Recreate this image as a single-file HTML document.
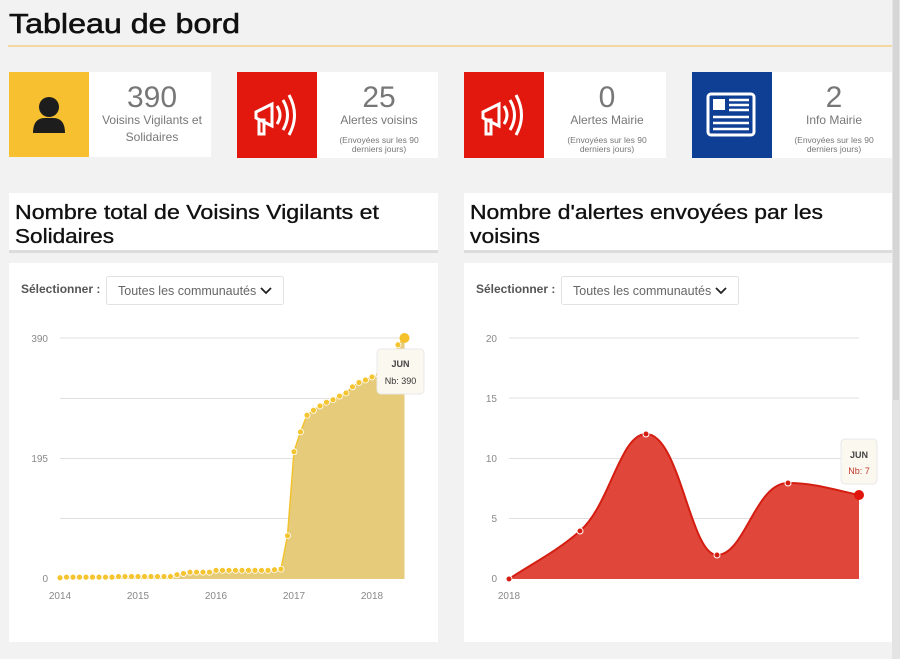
<!DOCTYPE html>
<html><head><meta charset="utf-8"><style>
html,body{margin:0;padding:0;background:#f2f2f2;width:900px;height:659px;overflow:hidden}
svg{display:block;font-family:"Liberation Sans",sans-serif}
</style></head><body>
<svg width="900" height="659" viewBox="0 0 900 659" xmlns="http://www.w3.org/2000/svg">
<rect width="900" height="659" fill="#f2f2f2"/>
<rect x="892" y="0" width="8" height="659" fill="#e4e4e4"/>
<rect x="893" y="0" width="6" height="400" fill="#d6d6d6"/>
<text x="9" y="33" font-size="28" fill="#111" stroke="#111" stroke-width="0.6" textLength="231" lengthAdjust="spacingAndGlyphs">Tableau de bord</text>
<line x1="8" y1="46" x2="892" y2="46" stroke="#f0c050" stroke-width="1"/>

<rect x="9" y="72" width="80" height="85" fill="#f6c030"/>
<rect x="89" y="72" width="122" height="85" fill="#fff"/>
<circle cx="49" cy="107" r="10" fill="#1d1d1d"/>
<path d="M33,133 Q33,118 45,118 L53,118 Q65,118 65,133 Z" fill="#1d1d1d"/>
<text x="152" y="107" font-size="30" fill="#777" text-anchor="middle">390</text>
<text x="152" y="124" font-size="12" fill="#777" text-anchor="middle">Voisins Vigilants et</text>
<text x="152" y="141" font-size="12" fill="#777" text-anchor="middle">Solidaires</text>

<rect x="237" y="72" width="80" height="86" fill="#e2180e"/>
<rect x="317" y="72" width="121" height="86" fill="#fff"/>
<g fill="none" stroke="#fff" stroke-width="3">
<path d="M256,112 L272,104 L272,126 L256,118 Z"/><rect x="259" y="120" width="5" height="14"/>
<path d="M277,106 Q283,115 277,124"/><path d="M283,100 Q292,115 283,130"/><path d="M289,95 Q300,115 289,135"/>
</g>
<text x="379" y="107" font-size="30" fill="#777" text-anchor="middle">25</text>
<text x="379" y="124" font-size="12" fill="#777" text-anchor="middle">Alertes voisins</text>
<text x="379" y="143" font-size="8.5" fill="#777" text-anchor="middle">(Envoyées sur les 90</text>
<text x="379" y="152" font-size="8.5" fill="#777" text-anchor="middle">derniers jours)</text>

<rect x="464" y="72" width="80" height="86" fill="#e2180e"/>
<rect x="544" y="72" width="122" height="86" fill="#fff"/>
<g fill="none" stroke="#fff" stroke-width="3">
<path d="M483,112 L499,104 L499,126 L483,118 Z"/><rect x="486" y="120" width="5" height="14"/>
<path d="M504,106 Q510,115 504,124"/><path d="M510,100 Q519,115 510,130"/><path d="M516,95 Q527,115 516,135"/>
</g>
<text x="607" y="107" font-size="30" fill="#777" text-anchor="middle">0</text>
<text x="607" y="124" font-size="12" fill="#777" text-anchor="middle">Alertes Mairie</text>
<text x="607" y="143" font-size="8.5" fill="#777" text-anchor="middle">(Envoyées sur les 90</text>
<text x="607" y="152" font-size="8.5" fill="#777" text-anchor="middle">derniers jours)</text>

<rect x="692" y="72" width="80" height="86" fill="#0f3f95"/>
<rect x="772" y="72" width="120" height="86" fill="#fff"/>
<rect x="708" y="94" width="46" height="41" rx="3" fill="none" stroke="#fff" stroke-width="3"/>
<rect x="713" y="99" width="12" height="11" fill="#fff"/>
<g stroke="#fff" stroke-width="2.5"><line x1="729" y1="100" x2="749" y2="100"/><line x1="729" y1="105" x2="749" y2="105"/><line x1="729" y1="110" x2="749" y2="110"/><line x1="713" y1="117" x2="749" y2="117"/><line x1="713" y1="123" x2="749" y2="123"/><line x1="713" y1="129" x2="749" y2="129"/></g>
<text x="834" y="107" font-size="30" fill="#777" text-anchor="middle">2</text>
<text x="834" y="124" font-size="12" fill="#777" text-anchor="middle">Info Mairie</text>
<text x="834" y="143" font-size="8.5" fill="#777" text-anchor="middle">(Envoyées sur les 90</text>
<text x="834" y="152" font-size="8.5" fill="#777" text-anchor="middle">derniers jours)</text>

<rect x="9" y="193" width="429" height="57" fill="#fff"/>
<rect x="9" y="250" width="429" height="3" fill="#dcdcdc"/>
<rect x="464" y="193" width="428" height="57" fill="#fff"/>
<rect x="464" y="250" width="428" height="3" fill="#dcdcdc"/>
<g fill="#111" stroke="#111" stroke-width="0.35" font-size="20">
<text x="15" y="219" textLength="364" lengthAdjust="spacingAndGlyphs">Nombre total de Voisins Vigilants et</text>
<text x="15" y="243" textLength="99" lengthAdjust="spacingAndGlyphs">Solidaires</text>
<text x="470" y="219" textLength="353" lengthAdjust="spacingAndGlyphs">Nombre d'alertes envoyées par les</text>
<text x="470" y="243" textLength="70" lengthAdjust="spacingAndGlyphs">voisins</text>
</g>

<rect x="9" y="263" width="429" height="379" fill="#fff"/>
<rect x="464" y="263" width="428" height="379" fill="#fff"/>

<text x="21" y="293" font-size="12" font-weight="bold" fill="#555">Sélectionner :</text>
<rect x="106.5" y="276.5" width="177" height="28" rx="2" fill="#fff" stroke="#e2e2e2"/>
<text x="118" y="295" font-size="12.5" fill="#666">Toutes les communautés</text>
<path d="M261,288 L266,293 L271,288" fill="none" stroke="#222" stroke-width="1.8"/>
<text x="476" y="293" font-size="12" font-weight="bold" fill="#555">Sélectionner :</text>
<rect x="561.5" y="276.5" width="177" height="28" rx="2" fill="#fff" stroke="#e2e2e2"/>
<text x="573" y="295" font-size="12.5" fill="#666">Toutes les communautés</text>
<path d="M716,288 L721,293 L726,288" fill="none" stroke="#222" stroke-width="1.8"/>

<g stroke="#e0e0e0" stroke-width="1">
<line x1="60" y1="338" x2="404" y2="338"/><line x1="60" y1="398.5" x2="404" y2="398.5"/><line x1="60" y1="458.5" x2="404" y2="458.5"/><line x1="60" y1="518.5" x2="404" y2="518.5"/>
</g>
<g font-size="10" fill="#888" text-anchor="end"><text x="48" y="342">390</text><text x="48" y="462">195</text><text x="48" y="582">0</text></g>
<g font-size="10" fill="#888" text-anchor="middle"><text x="60" y="599">2014</text><text x="138" y="599">2015</text><text x="216" y="599">2016</text><text x="294" y="599">2017</text><text x="372" y="599">2018</text></g>
<path id="lp" d="" fill="#e6cb7a" stroke="none"/>
<polyline id="ll" points="" fill="none" stroke="#f2c22e" stroke-width="1.5"/>
<g id="ld"></g>
<circle cx="404.5" cy="338" r="5" fill="#f5c12a"/>
<rect x="377" y="349" width="47" height="45" rx="4" fill="#fbf8f0" stroke="#e8e8e8"/>
<text x="400.5" y="367" font-size="9" font-weight="bold" fill="#444" text-anchor="middle">JUN</text>
<text x="400.5" y="384" font-size="9" fill="#333" text-anchor="middle">Nb: 390</text>

<g stroke="#e0e0e0" stroke-width="1">
<line x1="509" y1="338" x2="859" y2="338"/><line x1="509" y1="398" x2="859" y2="398"/><line x1="509" y1="458.5" x2="859" y2="458.5"/><line x1="509" y1="518.5" x2="859" y2="518.5"/>
</g>
<g font-size="10" fill="#888" text-anchor="end"><text x="497" y="342">20</text><text x="497" y="402">15</text><text x="497" y="462">10</text><text x="497" y="522">5</text><text x="497" y="582">0</text></g>
<text x="509" y="599" font-size="10" fill="#888" text-anchor="middle">2018</text>
<path d="M509,579 C533,563 556,552 580,531 C610,505 620,434 646,434 C680,434 690,555 717,555 C745,555 755,483 788,483 C815,483 835,490 859,495 L859,579 Z" fill="#e0473a"/>
<path d="M509,579 C533,563 556,552 580,531 C610,505 620,434 646,434 C680,434 690,555 717,555 C745,555 755,483 788,483 C815,483 835,490 859,495" fill="none" stroke="#d41e12" stroke-width="2"/>
<g fill="#d41e12" stroke="#fff" stroke-width="1"><circle cx="509" cy="579" r="3"/><circle cx="580" cy="531" r="3"/><circle cx="646" cy="434" r="3"/><circle cx="717" cy="555" r="3"/><circle cx="788" cy="483" r="3"/></g>
<circle cx="859" cy="495" r="5" fill="#e0150b"/>
<rect x="841" y="439" width="36" height="45" rx="4" fill="#fbf8f0" stroke="#e8e8e8"/>
<text x="859" y="458" font-size="9" font-weight="bold" fill="#444" text-anchor="middle">JUN</text>
<text x="859" y="474" font-size="9" fill="#c0392b" text-anchor="middle">Nb: 7</text>
</svg>
<script>
var v=[2,3,3,3,3,3,3,3,3,4,4,4,4,4,4,4,4,4,7,9,11,11,11,11,14,14,14,14,14,14,14,14,14,15,16,70,206,238,265,273,280,286,290,296,301,311,318,322,327,331,335,340,379,390];
var pts=v.map(function(a,i){return [60+6.5*i,579-a*0.618]});
var s=pts.map(function(p){return p[0].toFixed(1)+","+p[1].toFixed(1)}).join(" ");
document.getElementById("ll").setAttribute("points",s);
document.getElementById("lp").setAttribute("d","M60,579 L"+s.split(" ").join(" L")+" L404.5,579 Z");
var g=document.getElementById("ld"),h="";
pts.forEach(function(p){h+='<circle cx="'+p[0]+'" cy="'+p[1]+'" r="3" fill="#f5c531" stroke="#fff" stroke-width="0.8"/>'});
g.innerHTML=h;
</script>
</body></html>
